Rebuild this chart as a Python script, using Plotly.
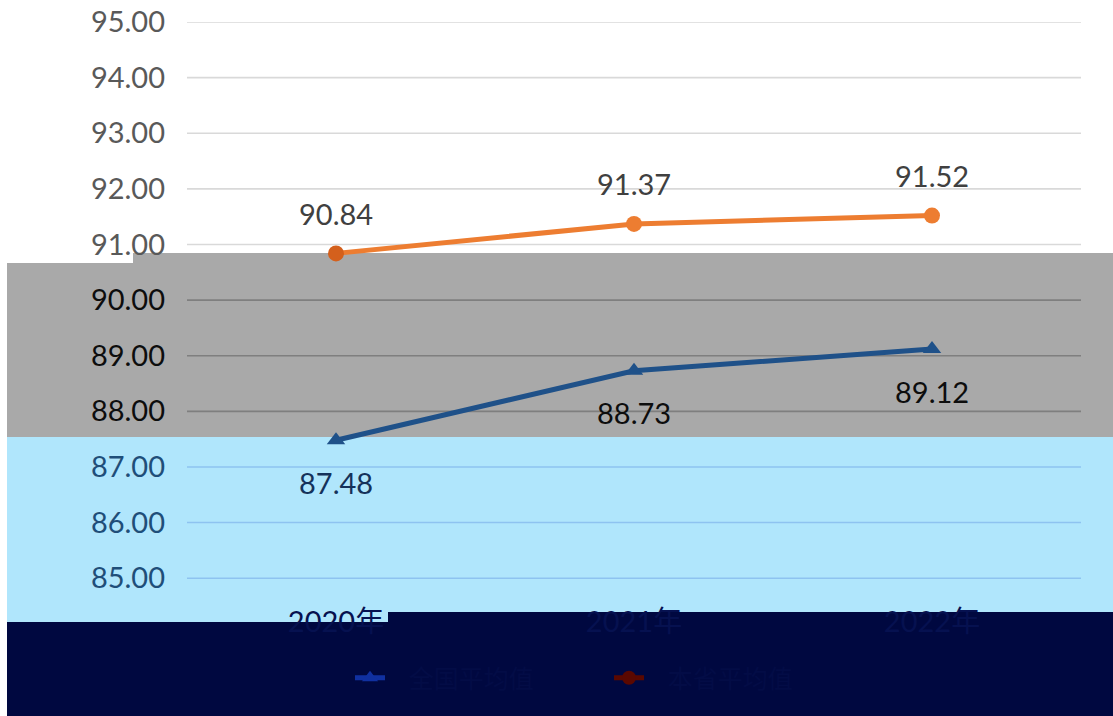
import plotly.graph_objects as go

# ---------------- data ----------------
years = ["2020年", "2021年", "2022年"]
series_blue_name = "全国平均值"
series_orange_name = "本省平均值"
blue_values = [87.48, 88.73, 89.12]
orange_values = [90.84, 91.37, 91.52]
y_ticks = [85, 86, 87, 88, 89, 90, 91, 92, 93, 94, 95]

# ---------------- styles ----------------
W, H = 1113, 716
ML, MR, MT, MB = 187, 32, 22, 110
PW, PH = W - ML - MR, H - MT - MB
FONT = "Lato, 'Noto Sans CJK SC', sans-serif"
ORANGE = "#ED7D31"
BLUE = "#1F5189"
GRAY_BAND = "#A9A9A9"
LBLUE_BAND = "#B0E6FC"
NAVY_BAND = "#000840"


def band_color(v):
    # white zone above ~90.7, gray zone to ~87.6, light-blue zone below
    if v >= 90.7:
        return "white"
    if v >= 87.6:
        return "gray"
    return "blue"


grid_col = {"white": "#D9D9D9", "gray": "#7F7F7F", "blue": "#8EC3F0"}
tick_col = {"white": "#595959", "gray": "#0D0D0D", "blue": "#1F4E79"}
label_col = {"white": "#404040", "gray": "#0D0D0D", "blue": "#15325A"}


def px_x(p):
    return (p - ML) / PW


def px_y(p):
    return (MT + PH - p) / PH


fig = go.Figure()

fig.add_trace(go.Scatter(
    x=years, y=blue_values, mode="lines+markers", showlegend=False,
    line=dict(color=BLUE, width=5),
    marker=dict(symbol="triangle-up", size=16, color=BLUE),
))
fig.add_trace(go.Scatter(
    x=years, y=orange_values, mode="lines+markers", showlegend=False,
    line=dict(color=ORANGE, width=5),
    marker=dict(symbol="circle", size=16,
                color=["#D4601C", ORANGE, ORANGE]),
))
# legend entries (drawn darkened, as in the reference)
fig.add_trace(go.Scatter(
    x=[None], y=[None], mode="lines+markers",
    name="\u2003" + series_blue_name,
    line=dict(color="#1030A0", width=5),
    marker=dict(symbol="triangle-up", size=14, color="#1030A0"),
))
fig.add_trace(go.Scatter(
    x=[None], y=[None], mode="lines+markers",
    name="\u2003" + series_orange_name,
    line=dict(color="#5A0800", width=5),
    marker=dict(symbol="circle", size=14, color="#5A0800"),
))

shapes = []
# background bands (paper based)
shapes.append(dict(type="rect", xref="paper", yref="paper", layer="below",
                   x0=px_x(7), x1=px_x(133), y0=px_y(437), y1=px_y(263),
                   fillcolor=GRAY_BAND, line=dict(width=0)))
shapes.append(dict(type="rect", xref="paper", yref="paper", layer="below",
                   x0=px_x(133), x1=px_x(W), y0=px_y(437), y1=px_y(253),
                   fillcolor=GRAY_BAND, line=dict(width=0)))
shapes.append(dict(type="rect", xref="paper", yref="paper", layer="below",
                   x0=px_x(7), x1=px_x(W), y0=px_y(622), y1=px_y(437),
                   fillcolor=LBLUE_BAND, line=dict(width=0)))
shapes.append(dict(type="rect", xref="paper", yref="paper", layer="below",
                   x0=px_x(388), x1=px_x(W), y0=px_y(622), y1=px_y(612),
                   fillcolor=NAVY_BAND, line=dict(width=0)))
shapes.append(dict(type="rect", xref="paper", yref="paper", layer="below",
                   x0=px_x(7), x1=px_x(W), y0=px_y(H), y1=px_y(622),
                   fillcolor=NAVY_BAND, line=dict(width=0)))
# gridlines drawn per band colour
for v in y_ticks:
    shapes.append(dict(type="line", xref="paper", yref="y", layer="below",
                       x0=0, x1=1, y0=v, y1=v,
                       line=dict(color=grid_col[band_color(v)], width=1.6)))

annotations = []
for x, v in zip(years, orange_values):
    annotations.append(dict(x=x, y=v, xref="x", yref="y", text=f"{v:.2f}",
                            showarrow=False, yshift=40,
                            font=dict(family=FONT, size=29,
                                      color=label_col[band_color(v + 0.7)])))
for x, v in zip(years, blue_values):
    annotations.append(dict(x=x, y=v, xref="x", yref="y", text=f"{v:.2f}",
                            showarrow=False, yshift=-42,
                            font=dict(family=FONT, size=29,
                                      color=label_col[band_color(v - 0.75)])))

ticktext = [f"<span style='color:{tick_col[band_color(v)]}'>{v:.2f}</span>"
            for v in y_ticks]

fig.update_layout(
    width=W, height=H,
    margin=dict(l=ML, r=MR, t=MT, b=MB, autoexpand=False),
    paper_bgcolor="white", plot_bgcolor="rgba(0,0,0,0)",
    font=dict(family=FONT, size=29, color="#595959"),
    shapes=shapes, annotations=annotations,
    xaxis=dict(type="category", range=[-0.5, 2.5], showgrid=False,
               showline=False, ticks="", zeroline=False,
               ticklabelstandoff=-4,
               tickfont=dict(family=FONT, size=29, color="#061150"),
               automargin=False),
    yaxis=dict(range=[84.5, 95], tickvals=y_ticks, ticktext=ticktext,
               showgrid=False, zeroline=False, showline=False, ticks="",
               ticklabelstandoff=21,
               tickfont=dict(family=FONT, size=29), automargin=False),
    legend=dict(orientation="h", x=px_x(350), xanchor="left",
                y=px_y(678), yanchor="middle",
                bgcolor="rgba(0,0,0,0)",
                font=dict(family=FONT, size=25, color="#030C46"),
                entrywidth=214, entrywidthmode="pixels",
                itemclick=False),
    showlegend=True,
)

fig.write_html("out.html",
               config={"displayModeBar": False},
               post_script="document.body.style.margin='0px';"
                           "document.body.style.overflow='hidden';")
